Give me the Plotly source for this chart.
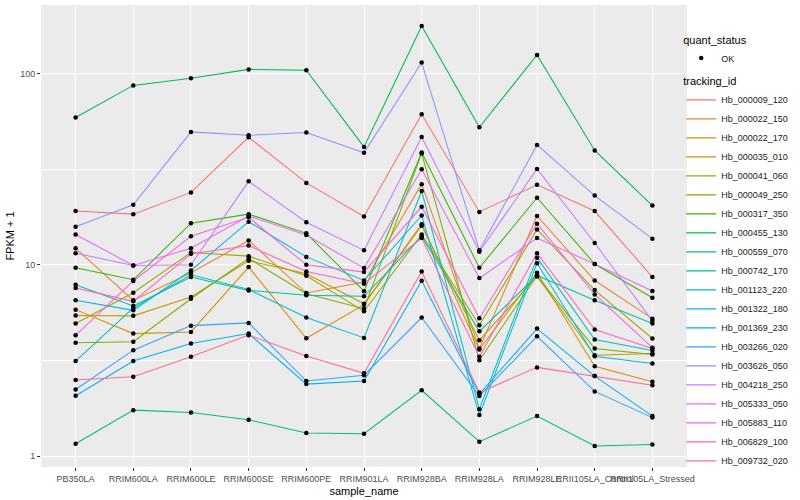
import math
import plotly.graph_objects as go

samples = ["PB350LA", "RRIM600LA", "RRIM600LE", "RRIM600SE", "RRIM600PE", "RRIM901LA",
           "RRIM928BA", "RRIM928LA", "RRIM928LE", "RRII105LA_Control", "RRII105LA_Stressed"]

# FPKM + 1 values, one list per tracking_id, in sample order
Hb_000009_120 = [19.1, 18.4, 23.9, 46.4, 26.8, 17.9, 61.2, 18.9, 26.2, 19.1, 8.63]
Hb_000022_150 = [12.2, 6.52, 9.08, 13.4, 7.12, 8.13, 26.4, 3.65, 18.0, 8.28, 5.23]
Hb_000022_170 = [5.83, 4.37, 4.46, 9.73, 4.13, 6.19, 16.3, 3.61, 9.08, 2.95, 2.45]
Hb_000035_010 = [5.43, 5.41, 6.79, 10.5, 8.98, 6.26, 16.0, 4.03, 8.69, 3.37, 3.44]
Hb_000041_060 = [4.93, 7.15, 11.6, 11.1, 8.76, 5.71, 14.4, 4.83, 15.3, 7.38, 4.12]
Hb_000049_250 = [3.91, 3.96, 6.65, 10.8, 7.06, 5.90, 38.2, 3.17, 8.76, 3.65, 3.40]
Hb_000317_350 = [9.65, 8.35, 16.5, 18.4, 14.6, 7.28, 38.6, 9.65, 22.4, 10.1, 6.73]
Hb_000455_130 = [58.8, 86.6, 94.5, 105, 104, 41.3, 177, 52.3, 125, 39.6, 20.4]
Hb_000559_070 = [1.16, 1.74, 1.69, 1.55, 1.32, 1.31, 2.21, 1.19, 1.62, 1.13, 1.15]
Hb_000742_170 = [7.87, 6.09, 8.63, 7.35, 6.94, 6.85, 14.1, 4.49, 8.80, 6.52, 4.93]
Hb_001123_220 = [3.14, 5.95, 8.87, 7.43, 5.30, 4.15, 24.3, 1.76, 10.9, 4.07, 3.57]
Hb_001322_180 = [6.52, 5.78, 9.34, 16.8, 11.0, 8.28, 18.1, 1.64, 10.2, 3.33, 3.05]
Hb_001369_230 = [2.07, 3.14, 3.88, 4.37, 2.38, 2.47, 8.25, 2.11, 4.64, 2.62, 1.62]
Hb_003266_020 = [2.23, 3.58, 4.81, 4.97, 2.47, 2.65, 5.30, 2.06, 4.23, 2.18, 1.59]
Hb_003626_050 = [15.8, 20.6, 49.5, 47.5, 49.1, 38.5, 114, 11.9, 42.3, 23.0, 13.7]
Hb_004218_250 = [11.5, 9.92, 10.0, 27.3, 16.7, 11.9, 46.6, 11.7, 31.7, 13.0, 5.09]
Hb_005333_050 = [14.4, 9.92, 12.2, 18.0, 14.3, 9.61, 31.6, 8.52, 13.8, 10.1, 7.30]
Hb_005883_110 = [4.28, 8.23, 14.1, 17.7, 10.0, 9.16, 20.1, 5.26, 16.4, 7.00, 3.69]
Hb_006829_100 = [7.56, 6.44, 11.4, 12.6, 9.23, 7.96, 13.8, 3.31, 11.5, 4.59, 3.65]
Hb_009732_020 = [2.50, 2.60, 3.31, 4.29, 3.34, 2.71, 9.23, 2.15, 2.91, 2.62, 2.35]

tracking_ids = ["Hb_000009_120", "Hb_000022_150", "Hb_000022_170", "Hb_000035_010",
                "Hb_000041_060", "Hb_000049_250", "Hb_000317_350", "Hb_000455_130",
                "Hb_000559_070", "Hb_000742_170", "Hb_001123_220", "Hb_001322_180",
                "Hb_001369_230", "Hb_003266_020", "Hb_003626_050", "Hb_004218_250",
                "Hb_005333_050", "Hb_005883_110", "Hb_006829_100", "Hb_009732_020"]
series_values = [Hb_000009_120, Hb_000022_150, Hb_000022_170, Hb_000035_010,
                 Hb_000041_060, Hb_000049_250, Hb_000317_350, Hb_000455_130,
                 Hb_000559_070, Hb_000742_170, Hb_001123_220, Hb_001322_180,
                 Hb_001369_230, Hb_003266_020, Hb_003626_050, Hb_004218_250,
                 Hb_005333_050, Hb_005883_110, Hb_006829_100, Hb_009732_020]

colors = ["#F8766D", "#EA8331", "#D89000", "#C09B00", "#A3A500", "#7CAE00", "#39B600",
          "#00BB4E", "#00BF7D", "#00C1A3", "#00BFC4", "#00BAE0", "#00B0F6", "#35A2FF",
          "#9590FF", "#C77CFF", "#E76BF3", "#FA62DB", "#FF62BC", "#FF6C91"]

FONT = "Liberation Sans, Arial, sans-serif"

fig = go.Figure()
for i, (tid, vals) in enumerate(zip(tracking_ids, series_values)):
    fig.add_trace(go.Scatter(
        x=samples, y=vals, mode="lines", name=tid,
        line=dict(color=colors[i], width=1.05),
        legend="legend2", legendrank=i + 2, hoverinfo="x+y+name"))

all_x = [s for vals in series_values for s in samples]
all_y = [v for vals in series_values for v in vals]
fig.add_trace(go.Scatter(
    x=all_x, y=all_y, mode="markers", name="OK",
    marker=dict(color="black", size=4.5), legend="legend", legendrank=1))

mn, mx = min(all_y), max(all_y)
lr = math.log10(mx) - math.log10(mn)
yr = [math.log10(mn) - 0.05 * lr, math.log10(mx) + 0.05 * lr]

fig.update_layout(
    width=800, height=500,
    margin=dict(l=41, r=113, t=5, b=33, autoexpand=False),
    paper_bgcolor="white", plot_bgcolor="#EBEBEB",
    font=dict(family=FONT, size=9, color="#1A1A1A"),
    showlegend=True,
    legend=dict(title=dict(text="quant_status", font=dict(size=11, color="black")),
                x=0.991, y=0.9475, xanchor="left", yanchor="top", itemwidth=30,
                bgcolor="rgba(0,0,0,0)", font=dict(size=9, color="#1A1A1A")),
    legend2=dict(title=dict(text="tracking_id", font=dict(size=11, color="black")),
                 x=0.991, y=0.857, xanchor="left", yanchor="top", itemwidth=30,
                 bgcolor="rgba(0,0,0,0)", font=dict(size=9, color="#1A1A1A")),
)
fig.update_xaxes(
    type="category", categoryorder="array", categoryarray=samples,
    range=[-0.6, len(samples) - 0.4],
    showgrid=True, gridcolor="white", gridwidth=1.1, zeroline=False,
    ticks="outside", ticklen=3, tickcolor="#333333", tickwidth=1,
    tickangle=0, tickfont=dict(size=9, color="#4D4D4D", family=FONT),
    title=dict(text="sample_name", font=dict(size=11, color="black"), standoff=4),
)
fig.update_yaxes(
    type="log", range=yr,
    tickvals=[1, 10, 100], ticktext=["1", "10", "100"],
    showgrid=True, gridcolor="white", gridwidth=1.1, zeroline=False,
    minor=dict(tickvals=[10 ** 0.5, 10 ** 1.5], showgrid=True, gridcolor="white",
               gridwidth=0.5, ticks=""),
    ticks="outside", ticklen=3, tickcolor="#333333", tickwidth=1,
    tickfont=dict(size=9, color="#4D4D4D", family=FONT),
    title=dict(text="FPKM + 1", font=dict(size=11, color="black"), standoff=3),
)

fig.write_html("out.html", config={"displayModeBar": False},
               post_script="document.body.style.margin='0';")
